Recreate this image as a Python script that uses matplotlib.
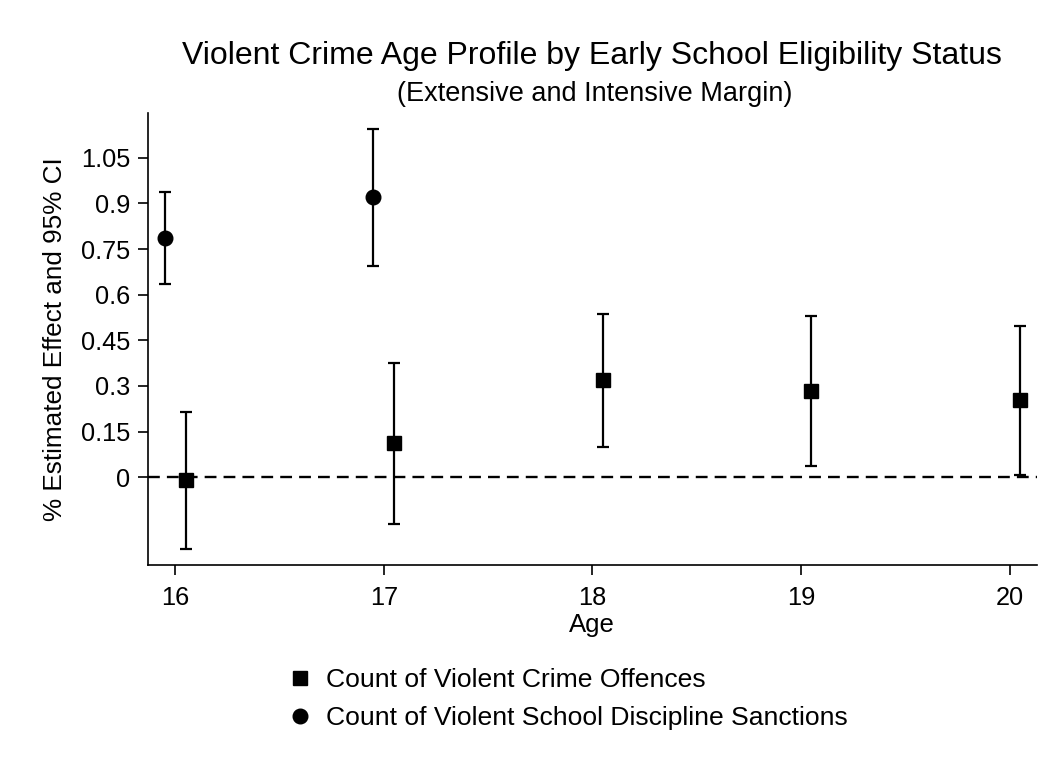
import numpy as np
import matplotlib.pyplot as plt

plt.rcParams['font.family'] = ['Liberation Sans', 'DejaVu Sans']

# estimates
ages = [16, 17, 18, 19, 20]
crime_est = [-0.011, 0.111, 0.319, 0.282, 0.252]
crime_lo = [-0.237, -0.155, 0.100, 0.036, 0.006]
crime_hi = [0.213, 0.374, 0.538, 0.529, 0.497]

school_ages = [16, 17]
school_est = [0.787, 0.920]
school_lo = [0.635, 0.695]
school_hi = [0.939, 1.146]

yticks = [0, 0.15, 0.3, 0.45, 0.6, 0.75, 0.9, 1.05]
ytick_labels = ['0', '0.15', '0.3', '0.45', '0.6', '0.75', '0.9', '1.05']

fig = plt.figure(figsize=(10.52, 7.62), dpi=100)
ax = fig.add_axes([0.1407, 0.2585, 0.8448, 0.5935])

x_c = np.array(ages) + 0.05
x_s = np.array(school_ages) - 0.05
err_c = [np.array(crime_est) - np.array(crime_lo), np.array(crime_hi) - np.array(crime_est)]
err_s = [np.array(school_est) - np.array(school_lo), np.array(school_hi) - np.array(school_est)]

ax.axhline(0, color='black', linestyle=(0, (5, 3)), linewidth=1.7, zorder=1)
ax.errorbar(x_c, crime_est, yerr=err_c, fmt='s', color='black', markersize=10.5,
            capsize=4.5, elinewidth=1.6, capthick=1.6, label='Count of Violent Crime Offences', zorder=3)
ax.errorbar(x_s, school_est, yerr=err_s, fmt='o', color='black', markersize=10.5,
            capsize=4.5, elinewidth=1.6, capthick=1.6, label='Count of Violent School Discipline Sanctions', zorder=3)

ax.set_xlim(15.87, 20.13)
ax.set_ylim(-0.289, 1.198)
ax.set_xticks(ages)
ax.set_yticks(yticks)
ax.set_yticklabels(ytick_labels)
ax.tick_params(axis='both', direction='out', length=7.4, width=1.2, labelsize=18.3)
ax.tick_params(axis='x', pad=8)
ax.tick_params(axis='y', pad=5.5)
for s in ['top', 'right']:
    ax.spines[s].set_visible(False)
for s in ['left', 'bottom']:
    ax.spines[s].set_linewidth(1.2)

ax.set_xlabel('Age', fontsize=18.5, labelpad=2)
ax.set_ylabel('% Estimated Effect and 95% CI', fontsize=18.8, labelpad=10)

fig.text(0.5625, 0.927, 'Violent Crime Age Profile by Early School Eligibility Status',
         ha='center', va='center', fontsize=23)
fig.text(0.5655, 0.876, '(Extensive and Intensive Margin)', ha='center', va='center', fontsize=19.5)

h, l = ax.get_legend_handles_labels()
h = [hh[0] for hh in h]
ax.legend(h, l, loc='upper left', bbox_to_anchor=(0.2625, 0.141), bbox_transform=fig.transFigure,
          frameon=False, fontsize=19.05, handlelength=0.8, handletextpad=0.6, labelspacing=0.54,
          borderpad=0)

fig.savefig('out.png', dpi=100)
